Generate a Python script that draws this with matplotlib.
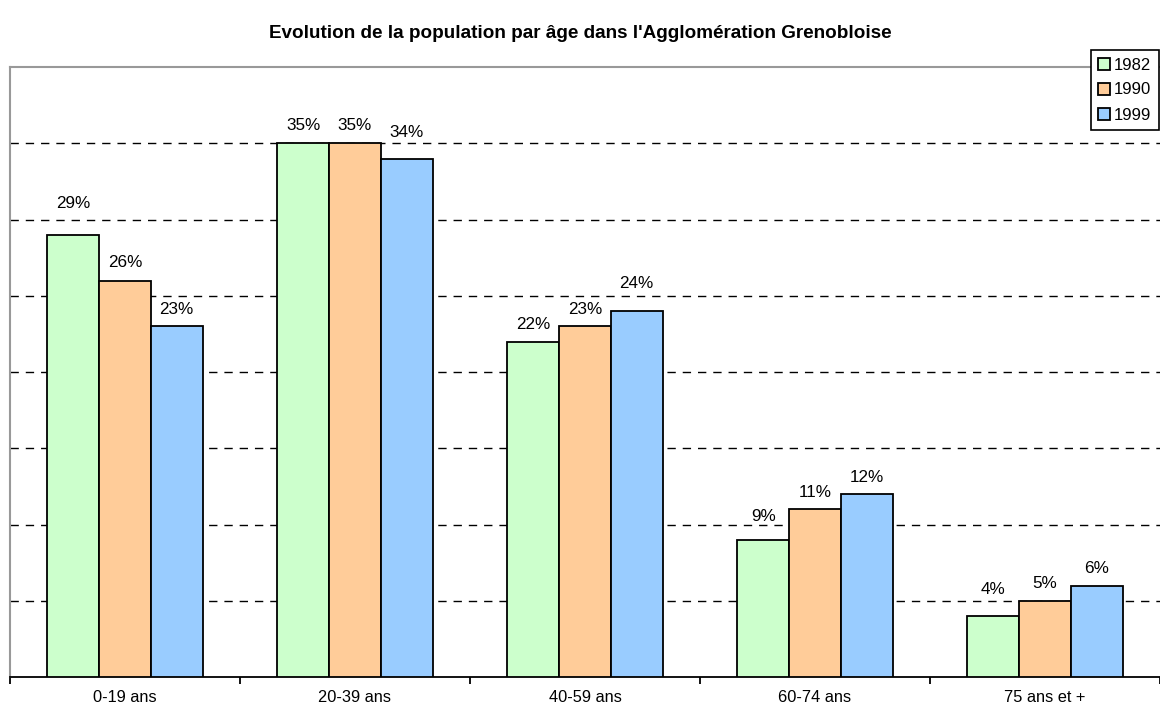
import matplotlib.pyplot as plt
import numpy as np

plt.rcParams['font.family'] = ['Liberation Sans', 'DejaVu Sans']

# Données
categories = ['0-19 ans', '20-39 ans', '40-59 ans', '60-74 ans', '75 ans et +']
years = ['1982', '1990', '1999']
v1982 = [29, 35, 22, 9, 4]
v1990 = [26, 35, 23, 11, 5]
v1999 = [23, 34, 24, 12, 6]
colors = ['#CCFFCC', '#FFCC99', '#99CCFF']

# décalage vertical des étiquettes (pixels), comme dans le graphique Excel
label_dy = [[31, 18, 17, 23, 26],
            [18, 18, 17, 17, 17],
            [17, 26, 27, 17, 17]]

fig = plt.figure(figsize=(11.6, 7.09), dpi=100)
ax = fig.add_axes([10 / 1160, 32 / 709, 1150 / 1160, 610 / 709])

x = np.arange(len(categories))
w = 0.225
for i, (vals, year) in enumerate(zip([v1982, v1990, v1999], years)):
    bars = ax.bar(x + (i - 1) * w, vals, w, color=colors[i], edgecolor='black',
                  linewidth=1.3, label=year, zorder=3)
    for b, v, dy in zip(bars, vals, label_dy[i]):
        ax.annotate(f'{v}%', (b.get_x() + b.get_width() / 2, v), xytext=(0, dy),
                    textcoords='offset pixels', ha='center', va='center',
                    fontsize=12.3)

ax.set_xlim(-0.5, len(categories) - 0.5)
ax.set_ylim(0, 40)
ax.set_yticks(np.arange(5, 40, 5))
ax.yaxis.grid(True, linestyle=(0, (6, 5)), color='black', linewidth=1, zorder=0)
ax.tick_params(axis='y', length=0, labelleft=False)

ax.set_xticks(x)
ax.set_xticklabels(categories, fontsize=11.8)
ax.tick_params(axis='x', which='major', length=0, pad=9)
ax.set_xticks(np.arange(-0.5, len(categories), 1), minor=True)
ax.tick_params(axis='x', which='minor', length=5, width=1.3, color='black')

ax.spines['right'].set_visible(False)
ax.spines['top'].set_color('#999999')
ax.spines['left'].set_color('#999999')
ax.spines['top'].set_linewidth(1.5)
ax.spines['left'].set_linewidth(1.5)
ax.spines['bottom'].set_linewidth(1.3)

leg = fig.legend(loc='upper right', bbox_to_anchor=(1159 / 1160, 1 - 50 / 709),
                 fontsize=12, frameon=True, fancybox=False, edgecolor='black',
                 framealpha=1, handlelength=0.7, handleheight=0.7, handletextpad=0.25,
                 borderpad=0.45, labelspacing=0.6, borderaxespad=0)
leg.get_frame().set_linewidth(1.2)

fig.text(580 / 1160, 1 - 33 / 709, "Evolution de la population par âge dans l'Agglomération Grenobloise",
         ha='center', va='center', fontsize=13.6, fontweight='bold')

fig.savefig('out.png', dpi=100)
